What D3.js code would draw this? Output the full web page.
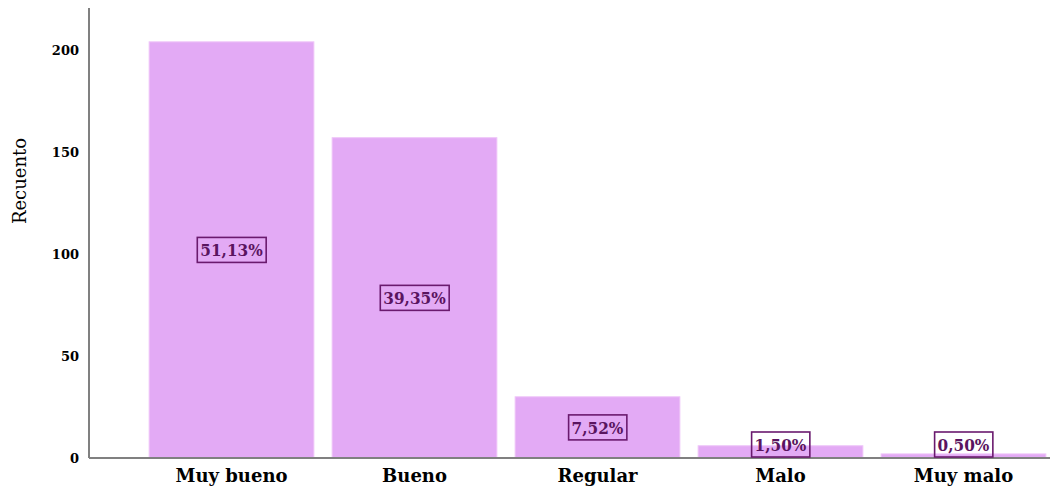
<!DOCTYPE html>
<html>
<head>
<meta charset="utf-8">
<script src="https://cdn.jsdelivr.net/npm/d3@7"></script>
<style>
  body { margin: 0; background: #fff; }
  svg { display: block; font-family: "DejaVu Serif", serif; }
</style>
</head>
<body>
<svg></svg>
<script>
// Data
const categories = ["Muy bueno", "Bueno", "Regular", "Malo", "Muy malo"];
const counts = [204, 157, 30, 6, 2];
const percentLabels = ["51,13%", "39,35%", "7,52%", "1,50%", "0,50%"];
const yTicks = [0, 50, 100, 150, 200];

const width = 1050, height = 493;
const baseY = 458, topY = 8, axisX = 89;

const svg = d3.select("svg").attr("width", width).attr("height", height);

// Scales
const xScale = d3.scaleBand().domain(categories).range([140, 1055])
    .paddingInner(0.1).paddingOuter(0.05);
const yScale = d3.scaleLinear().domain([0, 200]).range([baseY, baseY - 408]);

// Bars
svg.append("g").selectAll("rect")
    .data(counts)
    .enter().append("rect")
    .attr("x", (d, i) => xScale(categories[i]))
    .attr("y", d => yScale(d))
    .attr("width", xScale.bandwidth())
    .attr("height", d => baseY - yScale(d))
    .style("fill", "#e3aaf5")
    .style("stroke", "#eec4f8")
    .style("stroke-width", 1);

// Axes
const yAxis = svg.append("g")
    .attr("transform", `translate(${axisX},0)`)
    .call(d3.axisLeft(yScale).tickValues(yTicks).tickSize(0).tickPadding(10));
yAxis.select(".domain").remove();
yAxis.selectAll("text")
    .style("font-family", "'DejaVu Serif', serif")
    .style("font-weight", "bold")
    .style("font-size", "13px")
    .style("fill", "#000");

const xAxis = svg.append("g")
    .attr("transform", `translate(0,${baseY})`)
    .call(d3.axisBottom(xScale).tickSize(0).tickPadding(11));
xAxis.select(".domain").remove();
xAxis.selectAll("text")
    .style("font-family", "'DejaVu Serif', serif")
    .style("font-weight", "bold")
    .style("font-size", "18px")
    .style("fill", "#000");

// Axis lines
svg.append("line")
    .attr("x1", axisX).attr("y1", topY).attr("x2", axisX).attr("y2", baseY)
    .style("stroke", "#808080").style("stroke-width", 2);
svg.append("line")
    .attr("x1", axisX).attr("y1", baseY).attr("x2", width).attr("y2", baseY)
    .style("stroke", "#808080").style("stroke-width", 2);

// Y title
svg.append("text")
    .attr("transform", "translate(26,181) rotate(-90)")
    .attr("text-anchor", "middle")
    .style("font-family", "'DejaVu Serif', serif")
    .style("font-size", "18px")
    .text("Recuento");

// Percentage labels in boxes
const boxH = 25;
const labels = svg.append("g").selectAll("g")
    .data(counts)
    .enter().append("g")
    .attr("transform", (d, i) => {
        const cx = xScale(categories[i]) + xScale.bandwidth() / 2;
        const cy = Math.min((yScale(d) + baseY) / 2, baseY - boxH / 2 - 1);
        return `translate(${cx},${cy})`;
    });

labels.append("text")
    .attr("text-anchor", "middle")
    .attr("dy", "0.36em")
    .style("font-family", "'DejaVu Serif Condensed', 'DejaVu Serif', serif")
    .style("font-weight", "bold")
    .style("font-size", "17px")
    .style("fill", "#5a1460")
    .text((d, i) => percentLabels[i]);

labels.each(function () {
    const g = d3.select(this);
    const bb = g.select("text").node().getBBox();
    g.insert("rect", "text")
        .attr("x", bb.x - 3)
        .attr("y", -boxH / 2)
        .attr("width", bb.width + 6)
        .attr("height", boxH)
        .style("fill", "none")
        .style("stroke", "#6a1a6e")
        .style("stroke-width", 1.6);
});
</script>
</body>
</html>
